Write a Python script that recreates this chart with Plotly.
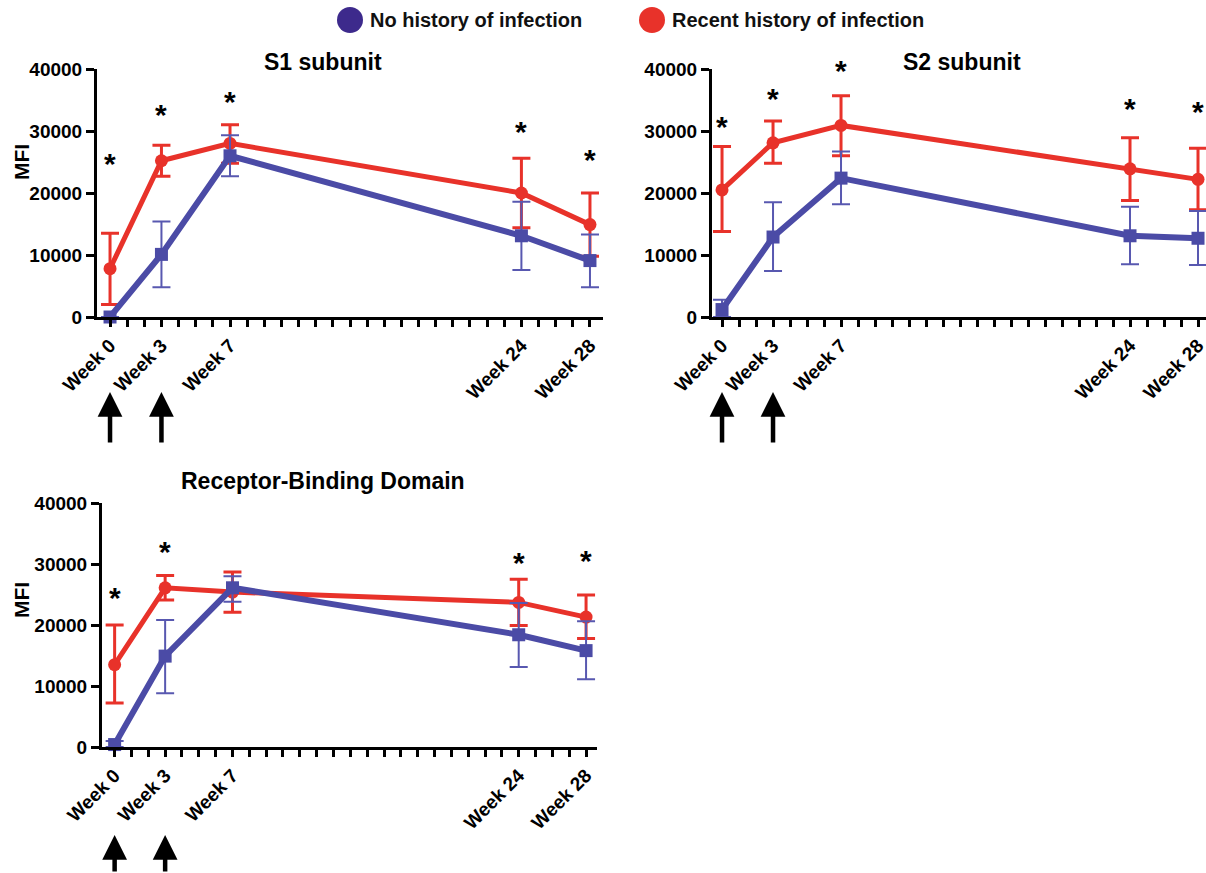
import plotly.graph_objects as go

# ---------------- data ----------------
weeks = [0, 3, 7, 24, 28]
week_labels = ["Week 0", "Week 3", "Week 7", "Week 24", "Week 28"]
all_weeks = list(range(0, 29))
y_ticks = [0, 10000, 20000, 30000, 40000]
y_tick_labels = ["0", "10000", "20000", "30000", "40000"]
vaccine_weeks = [0, 3]

panel_titles = ["S1 subunit", "S2 subunit", "Receptor-Binding Domain"]
group_names = ["No history of infection", "Recent history of infection"]

# S1 subunit
s1_recent_mean = [7800, 25200, 28000, 20000, 14900]
s1_recent_hi = [13500, 27700, 31000, 25600, 20000]
s1_recent_lo = [2000, 22700, 24800, 14400, 9800]
s1_none_mean = [0, 10100, 26000, 13100, 9100]
s1_none_hi = [0, 15400, 29300, 18600, 13300]
s1_none_lo = [0, 4800, 22700, 7600, 4800]
s1_star_weeks = [0, 3, 7, 24, 28]
s1_star_y = [25000, 33000, 35000, 30200, 25800]

# S2 subunit
s2_recent_mean = [20500, 28100, 30900, 23900, 22200]
s2_recent_hi = [27500, 31600, 35700, 28900, 27200]
s2_recent_lo = [13800, 24800, 26000, 18800, 17300]
s2_none_mean = [1200, 12900, 22400, 13100, 12700]
s2_none_hi = [2800, 18500, 26700, 17800, 17100]
s2_none_lo = [0, 7400, 18200, 8500, 8400]
s2_star_weeks = [0, 3, 7, 24, 28]
s2_star_y = [31000, 35500, 40000, 34000, 33500]

# Receptor-Binding Domain
rbd_recent_mean = [13500, 26100, 25400, 23700, 21300]
rbd_recent_hi = [20000, 28100, 28700, 27500, 24900]
rbd_recent_lo = [7200, 24100, 22100, 19900, 17800]
rbd_none_mean = [400, 14900, 26100, 18400, 15800]
rbd_none_hi = [1000, 20800, 28000, 23600, 20600]
rbd_none_lo = [0, 8800, 23800, 13100, 11100]
rbd_star_weeks = [0, 3, 24, 28]
rbd_star_y = [24900, 32400, 30600, 30900]

# ---------------- style ----------------
RED = "#E8322A"
BLUE = "#4B4BA6"
BLUE_ERR = "#5858B0"
PURPLE_LEG = "#3D2A8C"
FONT = "Liberation Sans"
W, H = 1206, 873

panels = [
    dict(rm=s1_recent_mean, rh=s1_recent_hi, rl=s1_recent_lo,
         nm=s1_none_mean, nh=s1_none_hi, nl=s1_none_lo,
         sw=s1_star_weeks, sy=s1_star_y),
    dict(rm=s2_recent_mean, rh=s2_recent_hi, rl=s2_recent_lo,
         nm=s2_none_mean, nh=s2_none_hi, nl=s2_none_lo,
         sw=s2_star_weeks, sy=s2_star_y),
    dict(rm=rbd_recent_mean, rh=rbd_recent_hi, rl=rbd_recent_lo,
         nm=rbd_none_mean, nh=rbd_none_hi, nl=rbd_none_lo,
         sw=rbd_star_weeks, sy=rbd_star_y),
]

# layout geometry in pixels: (y-axis x, x-range, top px, bottom px)
geom = [
    dict(x0=97, x1=603, xr=[-0.76, 28.76], top=69, bot=317),
    dict(x0=712, x1=1206, xr=[-0.59, 28.47], top=69, bot=317),
    dict(x0=102, x1=597, xr=[-0.75, 28.65], top=503, bot=747),
]
title_pos = [(323, 62), (962, 62), (323, 481)]
mfi_pos = [(21, 162), None, (21, 600)]
arrow_tip = [392, 392, 835]

fig = go.Figure()
annotations = []

for i, (p, g) in enumerate(zip(panels, geom)):
    sfx = "" if i == 0 else str(i + 1)
    xa, ya = "x" + sfx, "y" + sfx
    # recent history (red) first, so blue sits on top
    fig.add_trace(go.Scatter(
        x=weeks, y=p["rm"], xaxis=xa, yaxis=ya, mode="lines+markers",
        name=group_names[1], showlegend=False, cliponaxis=False,
        line=dict(color=RED, width=5),
        marker=dict(symbol="circle", size=13, color=RED),
        error_y=dict(type="data", symmetric=False,
                     array=[h - m for h, m in zip(p["rh"], p["rm"])],
                     arrayminus=[m - l for m, l in zip(p["rm"], p["rl"])],
                     color=RED, thickness=3, width=9),
    ))
    fig.add_trace(go.Scatter(
        x=weeks, y=p["nm"], xaxis=xa, yaxis=ya, mode="lines+markers",
        name=group_names[0], showlegend=False, cliponaxis=False,
        line=dict(color=BLUE, width=6),
        marker=dict(symbol="square", size=13, color=BLUE),
        error_y=dict(type="data", symmetric=False,
                     array=[h - m for h, m in zip(p["nh"], p["nm"])],
                     arrayminus=[m - l for m, l in zip(p["nm"], p["nl"])],
                     color=BLUE_ERR, thickness=2, width=9),
    ))

    common_axis = dict(showgrid=False, zeroline=False, showline=True,
                       linecolor="black", linewidth=3, ticks="outside",
                       tickcolor="black", tickwidth=3, automargin=False,
                       ticklabeloverflow="allow",
                       tickfont=dict(family=FONT, size=19, color="black", weight="bold"))
    fig.update_layout(**{
        ("xaxis" + sfx): dict(
            common_axis, domain=[g["x0"] / W, min(g["x1"] / W, 1.0)],
            range=g["xr"], anchor=ya, ticklen=7,
            tickvals=all_weeks,
            ticktext=[week_labels[weeks.index(w)] if w in weeks else "" for w in all_weeks],
            tickangle=-45,
            tickfont=dict(family=FONT, size=19, color="black", weight="bold")),
        ("yaxis" + sfx): dict(
            common_axis, domain=[1 - g["bot"] / H, 1 - g["top"] / H],
            range=[0, 40000], anchor=xa, ticklen=8,
            tickvals=y_ticks, ticktext=y_tick_labels),
    })

    # significance asterisks
    for w, yv in zip(p["sw"], p["sy"]):
        annotations.append(dict(
            x=w, y=yv, xref=xa, yref=ya, text="*", showarrow=False,
            xanchor="center", yanchor="middle",
            font=dict(family=FONT, size=30, color="black", weight="bold"),
            yshift=-2))

    # vaccination arrows
    for w in vaccine_weeks:
        annotations.append(dict(
            x=w, y=1 - arrow_tip[i] / H, xref=xa, yref="paper", text="",
            showarrow=True, ax=0, ay=52, axref="pixel", ayref="pixel",
            arrowhead=2, arrowsize=1.1, arrowwidth=4.5, arrowcolor="black"))

    # panel title
    tx, ty = title_pos[i]
    annotations.append(dict(
        x=tx / W, y=1 - ty / H, xref="paper", yref="paper",
        xanchor="center", yanchor="middle",
        text=panel_titles[i], showarrow=False,
        font=dict(family=FONT, size=23, color="black", weight="bold")))

    if mfi_pos[i] is not None:
        mx, my = mfi_pos[i]
        annotations.append(dict(
            x=mx / W, y=1 - my / H, xref="paper", yref="paper",
            xanchor="center", yanchor="middle",
            text="MFI", textangle=-90, showarrow=False,
            font=dict(family=FONT, size=21, color="black", weight="bold")))

# legend (custom, top centre)
legend_items = [(350, PURPLE_LEG, group_names[0]), (652, RED, group_names[1])]
shapes = []
for cx, col, label in legend_items:
    shapes.append(dict(type="circle", xref="paper", yref="paper",
                       x0=(cx - 13) / W, x1=(cx + 13) / W,
                       y0=1 - (20 + 13) / H, y1=1 - (20 - 13) / H,
                       fillcolor=col, line=dict(width=0)))
    annotations.append(dict(
        x=(cx + 18) / W, y=1 - 20 / H, xref="paper", yref="paper",
        text=label, showarrow=False, xanchor="left", yanchor="middle",
        font=dict(family=FONT, size=20, color="#111111", weight="bold")))

fig.update_layout(
    width=W, height=H, margin=dict(l=0, r=0, t=0, b=0, autoexpand=False),
    paper_bgcolor="white", plot_bgcolor="white",
    showlegend=False, annotations=annotations, shapes=shapes,
)

fig.write_html(
    "out.html",
    config={"displayModeBar": False},
    post_script="document.body.style.margin='0';document.body.style.overflow='hidden';",
)
